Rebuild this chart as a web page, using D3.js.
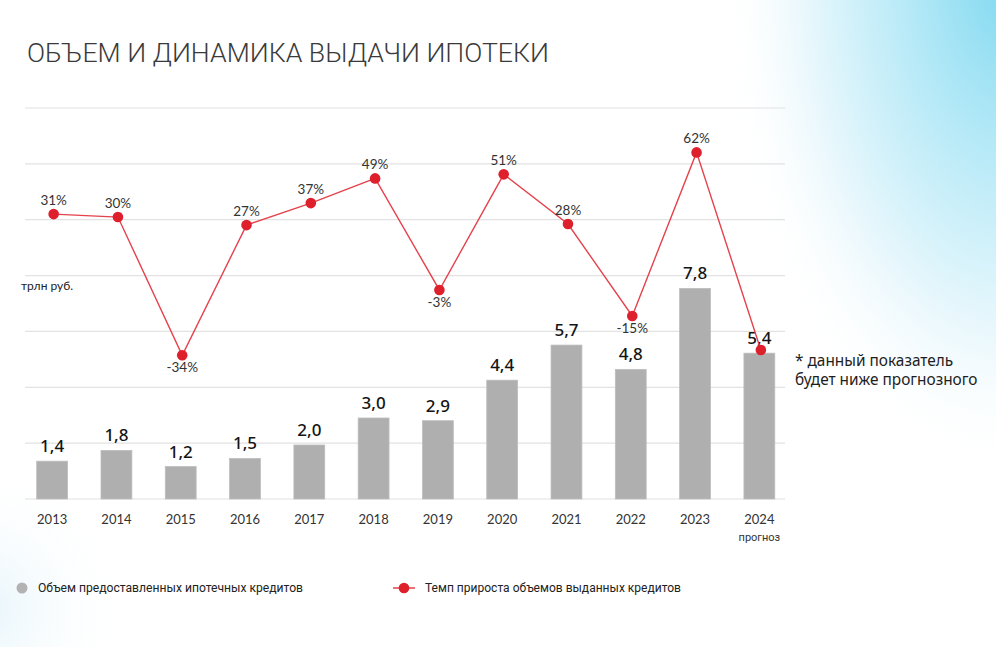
<!DOCTYPE html>
<html><head><meta charset="utf-8">
<script src="https://cdn.jsdelivr.net/npm/d3@7/dist/d3.min.js"></script>
<style>html,body{margin:0;padding:0;background:#fff;}svg{display:block;}</style>
</head><body>
<svg id="chart" width="996" height="647"></svg>
<script>
const years = ["2013","2014","2015","2016","2017","2018","2019","2020","2021","2022","2023","2024"];
const volumes = [1.4, 1.8, 1.2, 1.5, 2.0, 3.0, 2.9, 4.4, 5.7, 4.8, 7.8, 5.4];
const growth = [32.8, 31.4, -34, 27.6, 38, 49.7, -3.1, 51.6, 28.1, -15.4, 62, -31.5];
const growthLabels = ["31%","30%","-34%","27%","37%","49%","-3%","51%","28%","-15%","62%",""];
const volumeLabels = ["1,4","1,8","1,2","1,5","2,0","3,0","2,9","4,4","5,7","4,8","7,8","5,4"];
const gridCount = 7;

const svg = d3.select("#chart");
const W = 996, H = 647;

// background gradients
const defs = svg.append("defs");
const rg = defs.append("radialGradient").attr("id","tr")
  .attr("gradientUnits","userSpaceOnUse").attr("cx",1010).attr("cy",-30).attr("r",290)
  .attr("gradientTransform","translate(1010,-30) scale(1,1.75) translate(-1010,30)");
rg.append("stop").attr("offset","0%").attr("stop-color","#7fd8f0");
rg.append("stop").attr("offset","35%").attr("stop-color","#b5e9f7");
rg.append("stop").attr("offset","75%").attr("stop-color","#eef9fd");
rg.append("stop").attr("offset","100%").attr("stop-color","#ffffff").attr("stop-opacity",0);
const bl = defs.append("radialGradient").attr("id","bl")
  .attr("gradientUnits","userSpaceOnUse").attr("cx",-20).attr("cy",610).attr("r",150);
bl.append("stop").attr("offset","0%").attr("stop-color","#e6f5fb");
bl.append("stop").attr("offset","100%").attr("stop-color","#ffffff").attr("stop-opacity",0);
svg.append("rect").attr("width",W).attr("height",H).attr("fill","#fff");
svg.append("rect").attr("width",W).attr("height",H).attr("fill","url(#bl)");
svg.append("rect").attr("width",W).attr("height",H).attr("fill","url(#tr)");

// title
svg.append("text").attr("x",27).attr("y",62)
  .attr("font-family","Roboto, 'Noto Sans', sans-serif").attr("font-weight",300)
  .attr("font-size",26).attr("fill","#3a3a3a")
  .attr("textLength",522).attr("lengthAdjust","spacingAndGlyphs")
  .text("ОБЪЕМ И ДИНАМИКА ВЫДАЧИ ИПОТЕКИ");

const plotTop = 108, plotBottom = 499, gridLeft = 25, gridRight = 785;

const x = d3.scalePoint().domain(years).range([20, 791.5]).padding(0.5);
const barW = x.step() * 0.48;
const yBar = d3.scaleLinear().domain([0, 14.48]).range([plotBottom, plotTop]);
const yLine = d3.scaleLinear().domain([-102, 83]).range([plotBottom, plotTop]);

// gridlines
const gridVals = d3.range(gridCount + 1).map(i => plotBottom - i * (plotBottom - plotTop) / gridCount);
svg.append("g").selectAll("line").data(gridVals).join("line")
  .attr("x1", gridLeft).attr("x2", gridRight)
  .attr("y1", d => d).attr("y2", d => d)
  .attr("stroke", "#e2e2e2").attr("stroke-width", 1.2);

// unit label
svg.append("text").attr("x",21).attr("y",290)
  .attr("font-family","Lato, sans-serif").attr("font-size",12).attr("fill","#222")
  .text("трлн руб.");

// bars
svg.append("g").selectAll("rect").data(volumes).join("rect")
  .attr("x", (d,i) => x(years[i]) - barW/2)
  .attr("y", d => yBar(d))
  .attr("width", barW)
  .attr("height", d => plotBottom - yBar(d))
  .attr("fill", "#afafaf").attr("stroke","#bdbdbd").attr("stroke-width",0.8);

// bar labels
svg.append("g").selectAll("text").data(volumes).join("text")
  .attr("x", (d,i) => x(years[i]))
  .attr("y", d => yBar(d) - 9)
  .attr("text-anchor","middle")
  .attr("font-family","'Noto Sans', sans-serif").attr("font-weight",500)
  .attr("font-size",17).attr("fill","#141414")
  .text((d,i) => volumeLabels[i]);

// x axis labels
svg.append("g").selectAll("text").data(years).join("text")
  .attr("x", d => x(d)).attr("y", 524)
  .attr("text-anchor","middle")
  .attr("font-family","Lato, sans-serif").attr("font-size",13).attr("fill","#333")
  .text(d => d);
svg.append("text").attr("x", x("2024")).attr("y", 541)
  .attr("text-anchor","middle")
  .attr("font-family","Roboto, sans-serif").attr("font-size",11).attr("fill","#333")
  .text("прогноз");

// line
const line = d3.line().x((d,i) => x(years[i]) + 1.5).y(d => yLine(d));
svg.append("path").datum(growth).attr("d", line)
  .attr("fill","none").attr("stroke","#e5424d").attr("stroke-width",1.4);
svg.append("g").selectAll("circle").data(growth).join("circle")
  .attr("cx", (d,i) => x(years[i]) + 1.5).attr("cy", d => yLine(d)).attr("r", 5.3)
  .attr("fill","#de1f2c");
svg.append("g").selectAll("text").data(growth).join("text")
  .attr("x", (d,i) => x(years[i]) + 1.5)
  .attr("y", d => d < 0 ? yLine(d) + 17 : yLine(d) - 9)
  .attr("text-anchor","middle")
  .attr("font-family","Lato, sans-serif").attr("font-size",13.5).attr("fill","#333")
  .text((d,i) => growthLabels[i]);

// footnote
const fn = svg.append("text").attr("font-family","'Noto Sans', sans-serif")
  .attr("font-size",15.4).attr("fill","#1e1e1e");
fn.append("tspan").attr("x",795).attr("y",366).text("* данный показатель");
fn.append("tspan").attr("x",795).attr("y",385).text("будет ниже прогнозного");

// legend
svg.append("circle").attr("cx",22).attr("cy",588).attr("r",5.5).attr("fill","#b3b3b3");
svg.append("text").attr("x",38).attr("y",592)
  .attr("font-family","Roboto, sans-serif").attr("font-size",12.5).attr("fill","#222")
  .attr("textLength",265).attr("lengthAdjust","spacingAndGlyphs")
  .text("Объем предоставленных ипотечных кредитов");
svg.append("line").attr("x1",393).attr("x2",415).attr("y1",588).attr("y2",588)
  .attr("stroke","#e5424d").attr("stroke-width",1.5);
svg.append("circle").attr("cx",404).attr("cy",588).attr("r",5.3).attr("fill","#de1f2c");
svg.append("text").attr("x",425).attr("y",592)
  .attr("font-family","Roboto, sans-serif").attr("font-size",12.5).attr("fill","#222")
  .attr("textLength",256).attr("lengthAdjust","spacingAndGlyphs")
  .text("Темп прироста объемов выданных кредитов");
</script>
</body></html>
